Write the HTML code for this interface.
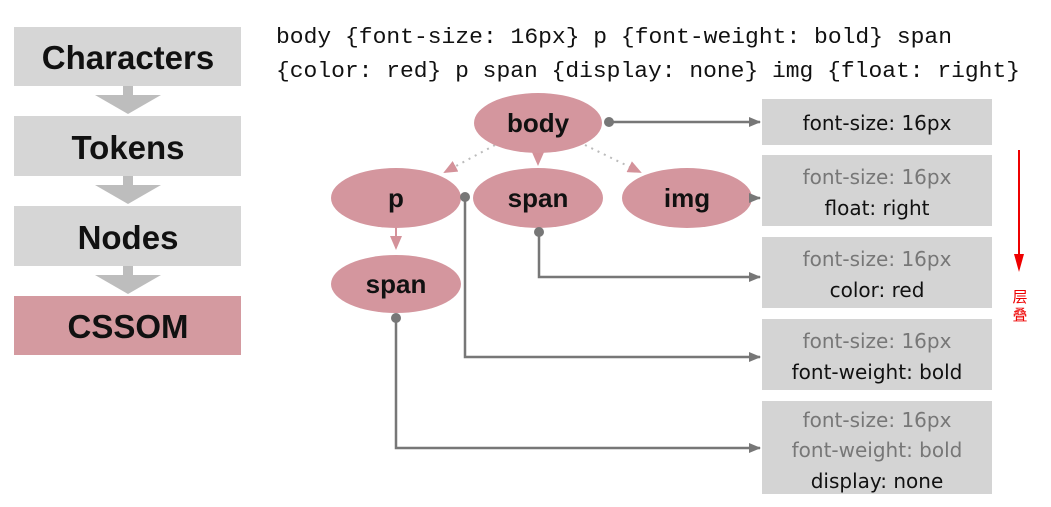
<!DOCTYPE html>
<html><head><meta charset="utf-8"><style>
html,body{margin:0;padding:0;background:#fff;}
svg{display:block}
.b{font-family:"Liberation Sans","DejaVu Sans",sans-serif;font-weight:bold;fill:#111}
.r{font-family:"DejaVu Sans","Liberation Sans",sans-serif;font-size:20px;text-anchor:middle}
.m{font-family:"Liberation Mono","DejaVu Sans Mono",monospace;font-size:22px;fill:#111}
</style></head><body>
<svg width="1051" height="507" viewBox="0 0 1051 507" xmlns="http://www.w3.org/2000/svg">
<defs>
<marker id="ah" markerWidth="12" markerHeight="10" refX="11" refY="5" orient="auto" markerUnits="userSpaceOnUse"><path d="M0,0 L12,5 L0,10 z" fill="#777"/></marker>
<marker id="pk" markerWidth="14" markerHeight="12" refX="12" refY="6" orient="auto" markerUnits="userSpaceOnUse"><path d="M0,0 L14,6 L0,12 z" fill="#d4929a"/></marker>
</defs>
<g fill="#d6d6d6">
<rect x="14" y="27" width="227" height="59"/>
<rect x="14" y="116" width="227" height="60"/>
<rect x="14" y="206" width="227" height="60"/>
</g>
<rect x="14" y="296" width="227" height="59" fill="#d49aa0"/>
<g fill="#bdbdbd">
<rect x="123" y="86" width="10" height="10"/><polygon points="95,95 161,95 128,114"/>
<rect x="123" y="176" width="10" height="10"/><polygon points="95,185 161,185 128,204"/>
<rect x="123" y="266" width="10" height="10"/><polygon points="95,275 161,275 128,294"/>
</g>
<g class="b" font-size="33" text-anchor="middle">
<text x="128" y="69">Characters</text>
<text x="128" y="159">Tokens</text>
<text x="128" y="249">Nodes</text>
<text x="128" y="338">CSSOM</text>
</g>
<text class="m" x="276" y="43" textLength="676" lengthAdjust="spacingAndGlyphs">body {font-size: 16px} p {font-weight: bold} span</text>
<text class="m" x="276" y="77" textLength="744" lengthAdjust="spacingAndGlyphs">{color: red} p span {display: none} img {float: right}</text>
<line x1="495" y1="145" x2="445" y2="172" stroke="#bbb" stroke-width="2" stroke-dasharray="2,5" marker-end="url(#pk)"/>
<line x1="585" y1="145" x2="640" y2="172" stroke="#bbb" stroke-width="2" stroke-dasharray="2,5" marker-end="url(#pk)"/>
<polygon points="531,150 545,150 538,166" fill="#d4929a"/>
<line x1="396" y1="228" x2="396" y2="248" stroke="#d4929a" stroke-width="2" marker-end="url(#pk)"/>
<g fill="#d4969e">
<ellipse cx="538" cy="123" rx="64" ry="30"/>
<ellipse cx="396" cy="198" rx="65" ry="30"/>
<ellipse cx="538" cy="198" rx="65" ry="30"/>
<ellipse cx="687" cy="198" rx="65" ry="30"/>
<ellipse cx="396" cy="284" rx="65" ry="29"/>
</g>
<g class="b" font-size="26" text-anchor="middle">
<text x="538" y="132">body</text>
<text x="396" y="207">p</text>
<text x="538" y="207">span</text>
<text x="687" y="207">img</text>
<text x="396" y="293">span</text>
</g>
<g stroke="#777" stroke-width="2.5" fill="none">
<line x1="609" y1="122" x2="760" y2="122" marker-end="url(#ah)"/>
<line x1="752" y1="198" x2="760" y2="198" marker-end="url(#ah)"/>
<polyline points="539,232 539,277 760,277" marker-end="url(#ah)"/>
<polyline points="465,197 465,357 760,357" marker-end="url(#ah)"/>
<polyline points="396,318 396,448 760,448" marker-end="url(#ah)"/>
</g>
<g fill="#777">
<circle cx="609" cy="122" r="5"/><circle cx="465" cy="197" r="5"/>
<circle cx="539" cy="232" r="5"/><circle cx="396" cy="318" r="5"/>
</g>
<g fill="#d4d4d4">
<rect x="762" y="99" width="230" height="46"/>
<rect x="762" y="155" width="230" height="71"/>
<rect x="762" y="237" width="230" height="71"/>
<rect x="762" y="319" width="230" height="71"/>
<rect x="762" y="401" width="230" height="93"/>
</g>
<g class="r">
<text x="877" y="130" fill="#111">font-size: 16px</text>
<text x="877" y="184" fill="#777">font-size: 16px</text>
<text x="877" y="215" fill="#111">float: right</text>
<text x="877" y="266" fill="#777">font-size: 16px</text>
<text x="877" y="297" fill="#111">color: red</text>
<text x="877" y="348" fill="#777">font-size: 16px</text>
<text x="877" y="379" fill="#111">font-weight: bold</text>
<text x="877" y="427" fill="#777">font-size: 16px</text>
<text x="877" y="457" fill="#777">font-weight: bold</text>
<text x="877" y="488" fill="#111">display: none</text>
</g>
<line x1="1019" y1="150" x2="1019" y2="258" stroke="#e00" stroke-width="2"/>
<polygon points="1014,254 1024,254 1019,272" fill="#e00"/>
<g font-family="'Noto Sans CJK SC',sans-serif" font-size="15" fill="#e00" text-anchor="middle">
<text x="1020" y="302">层</text>
<text x="1020" y="320">叠</text>
</g>
</svg>
</body></html>
